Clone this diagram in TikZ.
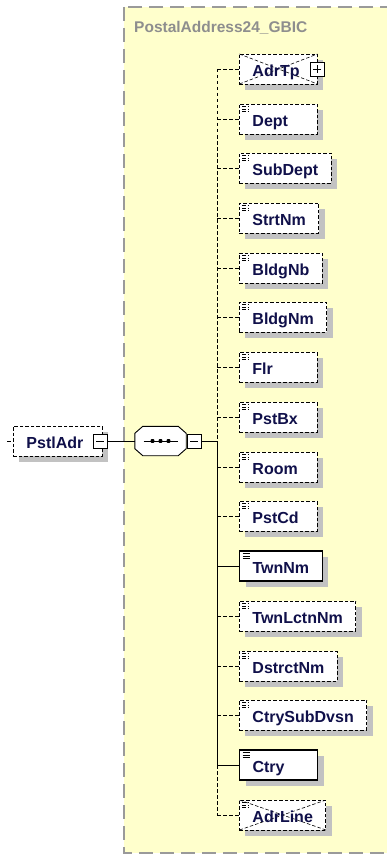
\documentclass[tikz,border=0pt]{standalone}
\usepackage{fontspec}
\setmainfont{Liberation Sans}
\usetikzlibrary{shadows}

\definecolor{bgyellow}{HTML}{FFFFCC}
\definecolor{bgborder}{HTML}{9A9A9A}
\definecolor{titlegrey}{HTML}{8E8E8E}
\definecolor{shadowgrey}{HTML}{C2C2C2}
\definecolor{elemtext}{HTML}{10104A}

% pad short names to the common box width
\newcommand\elname[2][52pt]{\setbox0=\hbox{#2}\ifdim\wd0<#1\hbox to #1{\box0\hfil}\else\box0\fi}
% mark for simple content, top left of a box
\newcommand\simplemark{%
  \draw[line width=0.7pt] ([xshift=3pt,yshift=-2.5pt]path picture bounding box.north west) -- ++(7,0);
  \draw[line width=0.7pt] ([xshift=3pt,yshift=-5pt]path picture bounding box.north west) -- ++(7,0);
  \draw[line width=0.7pt] ([xshift=3pt,yshift=-7.5pt]path picture bounding box.north west) -- ++(7,0);}
\newcommand\crossout{%
  \draw[line width=0.6pt] (path picture bounding box.north west) -- (path picture bounding box.south east)
    (path picture bounding box.south west) -- (path picture bounding box.north east);}
% octagon outline of a compositor node
\newcommand\octagon[1]{([xshift=8pt]#1.north west) -- ([xshift=-8pt]#1.north east) -- ([yshift=-7pt]#1.north east)
  -- ([yshift=7pt]#1.south east) -- ([xshift=-8pt]#1.south east) -- ([xshift=8pt]#1.south west)
  -- ([yshift=7pt]#1.south west) -- ([yshift=-7pt]#1.north west) -- cycle}

\tikzset{
  elem/.style={draw, fill=white, anchor=west, minimum height=30pt, inner xsep=13pt, inner ysep=0pt,
    text height=15pt, text depth=0pt, font=\bfseries\fontsize{16}{18}\selectfont, text=elemtext,
    line width=0.9pt, drop shadow={shadow xshift=6pt, shadow yshift=-6pt, fill=shadowgrey, opacity=1}},
  optional/.style={elem, dash pattern=on 3.5pt off 2pt},
  mandatory/.style={elem, line width=1.1pt},
  simple/.style={path picture={\simplemark}},
  crossed/.style={path picture={\crossout}},
  crossedsimple/.style={path picture={\simplemark\crossout}},
  expander/.style={draw, fill=white, line width=0.8pt, minimum width=14pt, minimum height=14pt, inner sep=0pt},
  minus/.style={expander, path picture={
    \draw[line width=0.8pt] ([xshift=3pt]path picture bounding box.west) -- ([xshift=-3pt]path picture bounding box.east);}},
  plus/.style={expander, path picture={
    \draw[line width=0.8pt] ([xshift=3pt]path picture bounding box.west) -- ([xshift=-3pt]path picture bounding box.east);
    \draw[line width=0.8pt] ([yshift=3pt]path picture bounding box.south) -- ([yshift=-3pt]path picture bounding box.north);}},
  sequence/.style={minimum width=51pt, minimum height=29pt, inner sep=0pt},
  optline/.style={line width=0.9pt, dash pattern=on 3.5pt off 2.5pt},
  reqline/.style={line width=1pt},
  frametitle/.style={anchor=base west, inner sep=0pt, font=\bfseries\fontsize{15.5}{18}\selectfont, text=titlegrey}
}

\begin{document}
\begin{tikzpicture}[x=1pt, y=-1pt]
  \useasboundingbox (0,0) rectangle (387,856);
  % Type frame
  \draw[fill=bgyellow, draw=bgborder, line width=1.3pt, dash pattern=on 14pt off 7pt] (124,7) rectangle (400,853);
  \node[frametitle] (title) at (134,33) {PostalAddress24\_GBIC};

  % Root and sequence
  \coordinate (root) at (7,441);
  \node[optional] (PstlAdr) at (13,441) {\elname[63pt]{PstlAdr}};
  \node[minus] (PstlAdrExp) at (100,441) {};
  \node[sequence] (seq) at (160.5,441) {};
  \fill[shadowgrey, shift={(6,6)}] \octagon{seq};
  \draw[fill=white, line width=0.9pt] \octagon{seq};
  \draw[line width=1pt] ([xshift=-17pt]seq.center) -- ([xshift=17pt]seq.center);
  \fill[rounded corners=0.8pt] ([xshift=-9.8pt,yshift=-1.8pt]seq.center) rectangle ([xshift=-6.2pt,yshift=1.8pt]seq.center);
  \fill[rounded corners=0.8pt] ([xshift=-1.8pt,yshift=-1.8pt]seq.center) rectangle ([xshift=1.8pt,yshift=1.8pt]seq.center);
  \fill[rounded corners=0.8pt] ([xshift=6.2pt,yshift=-1.8pt]seq.center) rectangle ([xshift=9.8pt,yshift=1.8pt]seq.center);
  \node[minus] (seqExp) at (194,441) {};
  \coordinate (spine) at (217,441);

  % Children (top to bottom)
  \node[optional, crossed] (AdrTp) at (239,69) {\elname{AdrTp}};
  \node[plus] (AdrTpExp) at ([xshift=-1pt]AdrTp.east) {};
  \node[optional, simple] (Dept) at (239,119) {\elname{Dept}};
  \node[optional, simple] (SubDept) at (239,168) {\elname{SubDept}};
  \node[optional, simple] (StrtNm) at (239,218) {\elname{StrtNm}};
  \node[optional, simple] (BldgNb) at (239,268) {\elname{BldgNb}};
  \node[optional, simple] (BldgNm) at (239,317) {\elname{BldgNm}};
  \node[optional, simple] (Flr) at (239,367) {\elname{Flr}};
  \node[optional, simple] (PstBx) at (239,417) {\elname{PstBx}};
  \node[optional, simple] (Room) at (239,467) {\elname{Room}};
  \node[optional, simple] (PstCd) at (239,516) {\elname{PstCd}};
  \node[mandatory, simple] (TwnNm) at (239,566) {\elname{TwnNm}};
  \node[optional, simple] (TwnLctnNm) at (239,616) {\elname{TwnLctnNm}};
  \node[optional, simple] (DstrctNm) at (239,666) {\elname{DstrctNm}};
  \node[optional, simple] (CtrySubDvsn) at (239,715) {\elname{CtrySubDvsn}};
  \node[mandatory, simple] (Ctry) at (239,765) {\elname{Ctry}};
  \node[optional, crossedsimple] (AdrLine) at (239,815) {\elname{AdrLine}};

  % Edges
  \draw[optline] (root) -- (PstlAdr.west);
  \draw[reqline] (PstlAdrExp.east) -- (seq.west);
  \draw[reqline] (seqExp.east) -- (spine);
  \draw[optline] (spine |- AdrTp.west) -- (spine);
  \draw[reqline] (spine) -- (spine |- Ctry.west);
  \draw[optline] (spine |- Ctry.west) -- (spine |- AdrLine.west);
  \draw[optline] (spine |- AdrTp.west) -- (AdrTp.west);
  \draw[optline] (spine |- Dept.west) -- (Dept.west);
  \draw[optline] (spine |- SubDept.west) -- (SubDept.west);
  \draw[optline] (spine |- StrtNm.west) -- (StrtNm.west);
  \draw[optline] (spine |- BldgNb.west) -- (BldgNb.west);
  \draw[optline] (spine |- BldgNm.west) -- (BldgNm.west);
  \draw[optline] (spine |- Flr.west) -- (Flr.west);
  \draw[optline] (spine |- PstBx.west) -- (PstBx.west);
  \draw[optline] (spine |- Room.west) -- (Room.west);
  \draw[optline] (spine |- PstCd.west) -- (PstCd.west);
  \draw[reqline] (spine |- TwnNm.west) -- (TwnNm.west);
  \draw[optline] (spine |- TwnLctnNm.west) -- (TwnLctnNm.west);
  \draw[optline] (spine |- DstrctNm.west) -- (DstrctNm.west);
  \draw[optline] (spine |- CtrySubDvsn.west) -- (CtrySubDvsn.west);
  \draw[reqline] (spine |- Ctry.west) -- (Ctry.west);
  \draw[optline] (spine |- AdrLine.west) -- (AdrLine.west);
\end{tikzpicture}
\end{document}
